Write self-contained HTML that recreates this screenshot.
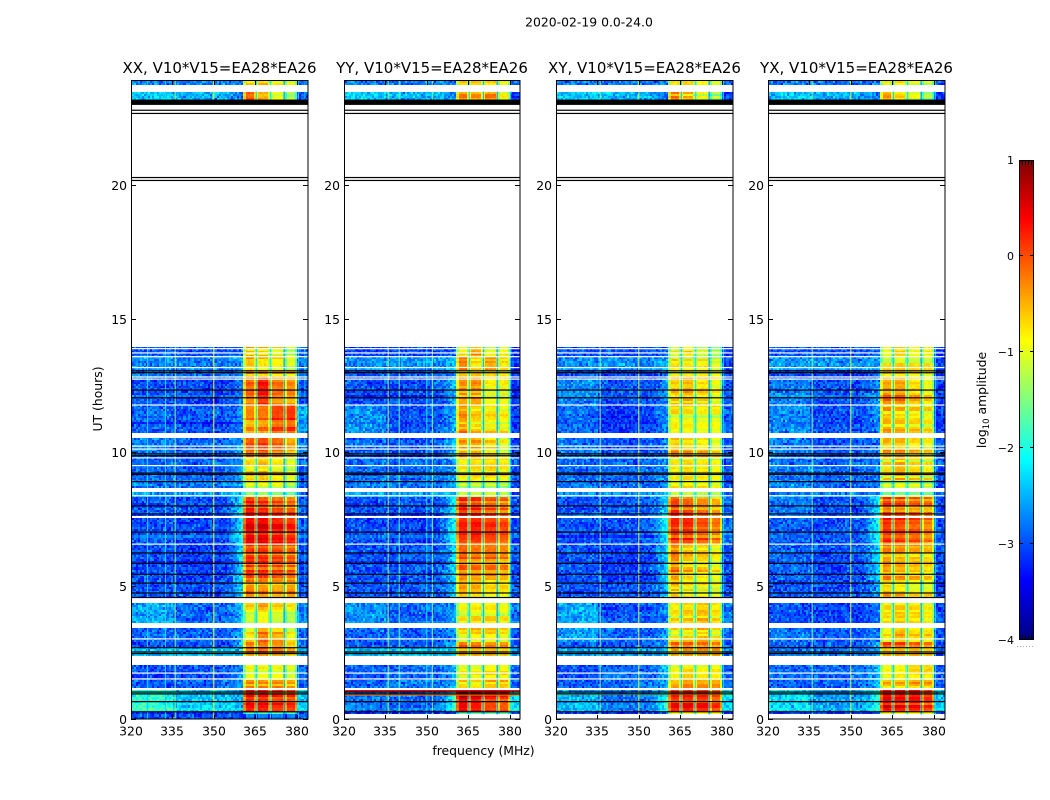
<!DOCTYPE html>
<html lang="en">
<head>
<meta charset="utf-8">
<title>2020-02-19 0.0-24.0</title>
<style>
html,body{margin:0;padding:0;background:#fff;width:1050px;height:800px;overflow:hidden}
svg{display:block}
text{font-family:"DejaVu Sans","Liberation Sans",sans-serif;fill:#000}
.cell{shape-rendering:crispEdges}
</style>
</head>
<body>
<svg id="chart" xmlns="http://www.w3.org/2000/svg" width="1050" height="800" viewBox="0 0 1050 800">
  <text x="589" y="26.500" font-size="12.400" text-anchor="middle">2020-02-19 0.0-24.0</text>
  <text x="0" y="0" font-size="12.400" text-anchor="middle" transform="translate(102,399) rotate(-90)">UT (hours)</text>
  <text x="483.500" y="755" font-size="12.400" text-anchor="middle">frequency (MHz)</text>
  <text x="0" y="0" font-size="12.400" text-anchor="middle" transform="translate(986,400) rotate(-90)">log<tspan font-size="8.500" dy="3">10</tspan><tspan dy="-3"> amplitude</tspan></text>
  <g id="panels"></g>
  <g id="colorbar"></g>
</svg>
<script>
// ---- Data ----
const panelNames = ['XX', 'YY', 'XY', 'YX'];
const freqTicks = [320, 335, 350, 365, 380];
const hourTicks = [0, 5, 10, 15, 20];
const colorTicks = [1, 0, -1, -2, -3, -4];

// time bands in hours (start, end); anything between them is flagged (white)
const bandStarts = [0, 0.17, 0.26, 1.16, 1.46, 1.72, 2.36, 2.7, 2.88, 3.6, 4.53, 5.2, 6.55, 7.6, 8.31, 8.65, 8.95, 9.78, 10.71, 11.76, 12.77, 13.07, 13.56, 23.2, 23.75];
const bandEnds = [0.17, 0.26, 1.09, 1.46, 1.72, 2.02, 2.7, 2.88, 3.41, 4.35, 5.2, 6.55, 7.53, 8.31, 8.5, 8.95, 9.78, 10.52, 11.76, 12.77, 13.07, 13.56, 13.93, 23.5, 23.9];

// frequency regions in MHz: left, middle, edge, block1..block4, right
const regionEdges = [320, 335, 352, 360.5, 365.4, 370.5, 375.5, 380.4, 384.2];

// log10 amplitude per time band and frequency region
const xxValues = [
[-3,-3,-3,-2.8,-2.8,-2.8,-2.8,-3],
[-3.2,-3.2,-3,-1.5,-1.5,-1.5,-1.5,-3.2],
[-2,-2.4,-2.7,0.3,0.25,0.15,0.1,-2.4],
[-3,-2.9,-2.6,-0.3,-0.3,-0.3,-0.4,-3],
[-3.1,-3,-2.6,-0.7,-0.7,-0.7,-0.8,-3],
[-3,-3,-2.6,-1,-1,-1,-1.1,-3],
[-2.4,-2.4,-2.3,-0.3,-0.2,-0.3,-0.5,-2.6],
[-3,-3,-2.3,0,0,-0.1,-0.4,-3],
[-2.9,-2.9,-2.6,-0.8,-0.25,-0.5,-0.9,-3],
[-2.6,-2.9,-2.5,-0.9,-0.7,-0.9,-1,-2.8],
[-3,-3,-2.3,-0.3,-0.4,-0.5,-0.4,-3],
[-3,-3.1,-2.2,0,0,-0.1,-0.2,-3.1],
[-3,-3.1,-2.1,0.35,0.35,0.2,0.1,-3.1],
[-3,-3,-2.1,0.25,0.15,0,-0.1,-3],
[-2.6,-2.6,-2.4,-1.3,-1.3,-1.4,-1.5,-3],
[-2.8,-2.8,-2.6,-1,-1,-1,-1.3,-3],
[-2.9,-2.9,-2.6,-0.7,-0.6,-0.8,-1,-3],
[-2.8,-2.9,-2.6,-0.2,-0.1,-0.3,-0.6,-2.9],
[-2.9,-3,-2.7,-0.4,-0.3,-0.05,0,-2.6],
[-3,-3.1,-2.8,-0.2,0.2,-0.3,-0.4,-3],
[-2.8,-2.9,-2.7,-0.5,-0.5,-0.6,-0.7,-2.9],
[-2.7,-2.8,-2.5,-0.6,-0.8,-0.9,-1.1,-2.8],
[-3,-3,-2.9,-0.6,-0.7,-0.9,-1.2,-3],
[-2.4,-2.5,-2.9,-0.2,-0.6,-1.1,-1.4,-3.1],
[-2.8,-2.8,-2.8,-0.8,-0.7,-1,-1.1,-3]
];
const yyValues = [
[null,null,null,null,null,null,null,null],
[-3.2,-3.2,-3,-1.5,-1.5,-1.5,-1.5,-3.2],
[-2.8,-2.9,-1.8,0.65,0.5,0.25,0.15,-2.2],
[-2.9,-2.8,-2.5,-0.7,-0.8,-0.6,-0.6,-3],
[-3,-2.9,-2.5,-0.9,-0.9,-0.8,-0.8,-3],
[-2.9,-2.9,-2.5,-1,-1,-0.9,-0.9,-3],
[-2.4,-2.4,-2.2,-0.4,-0.4,-0.4,-0.5,-2.6],
[-3,-3,-2.4,-0.1,-0.2,-0.3,-0.3,-3],
[-2.9,-2.9,-2.6,-0.8,-0.7,-0.7,-0.8,-3],
[-2.7,-2.9,-2.6,-0.9,-0.8,-0.8,-0.9,-2.8],
[-3,-3,-2.4,-0.6,-0.7,-0.9,-0.9,-3],
[-3,-3,-2.2,-0.2,-0.3,-0.3,-0.4,-3],
[-3,-3.1,-2,0.15,0.2,0.05,-0.05,-3],
[-3,-3,-2.1,0.1,0,-0.2,-0.3,-3],
[-2.6,-2.6,-2.4,-1.4,-1.4,-1.4,-1.5,-3],
[-2.8,-2.8,-2.6,-1.1,-1.1,-1.1,-1.2,-3],
[-2.9,-2.9,-2.6,-0.9,-0.8,-0.8,-0.9,-3],
[-2.9,-3,-2.4,-0.5,-0.5,-0.8,-1,-3.1],
[-2.7,-3,-2.5,-0.4,-0.7,-0.8,-0.9,-3.1],
[-3,-3,-2.4,-0.4,-0.4,-0.9,-0.9,-3.1],
[-3,-3,-2.6,-0.7,-0.7,-0.8,-0.9,-3.2],
[-2.7,-2.7,-2.3,-0.4,-0.9,-0.6,-0.9,-3.2],
[-3.1,-3.1,-2.9,-0.9,-0.5,-1.1,-1,-3.2],
[-2.4,-2.5,-2.9,-0.3,-0.4,-0.3,-0.9,-3.1],
[-2.8,-2.8,-2.8,-0.6,-0.5,-0.6,-0.8,-3]
];
const xyValues = [
[null,null,null,null,null,null,null,null],
[-3.2,-3.2,-3,-1.2,-1.2,-1.2,-1.2,-3.2],
[-2.5,-2.8,-1.9,0.25,0.25,0.2,0,-2.3],
[-3,-2.9,-2.5,-0.7,-0.5,-0.6,-0.6,-3],
[-3,-2.9,-2.5,-0.9,-0.7,-0.9,-0.9,-3],
[-3,-2.9,-2.4,-1,-0.8,-1,-0.9,-3],
[-2.5,-2.6,-2.4,-0.6,-0.5,-0.5,-0.5,-2.8],
[-3,-3,-2.5,-0.3,-0.3,-0.4,-0.5,-3],
[-2.6,-2.9,-2.6,-0.9,-0.8,-0.7,-0.9,-2.9],
[-2.6,-3,-2.7,-0.9,-0.8,-0.7,-0.9,-2.8],
[-3,-3,-2.4,-0.6,-0.8,-0.9,-1,-3],
[-3,-3.1,-2.3,-0.3,-0.6,-0.7,-0.9,-3],
[-3,-3,-2,0.1,0.1,-0.1,-0.3,-2.8],
[-3,-3,-2.2,-0.05,-0.2,-0.4,-0.6,-2.9],
[-2.7,-2.7,-2.5,-1.4,-1.4,-1.5,-1.5,-3],
[-2.8,-2.9,-2.7,-1,-0.9,-1,-1.1,-3],
[-2.9,-2.9,-2.7,-0.9,-0.8,-0.9,-1,-3],
[-2.8,-3,-2.7,-0.5,-0.6,-0.7,-0.9,-3],
[-2.9,-3.1,-2.7,-0.8,-0.8,-0.9,-0.9,-2.9],
[-2.7,-3,-2.6,-0.6,-0.5,-0.7,-0.9,-3],
[-3,-3.1,-2.8,-0.9,-0.9,-0.9,-1,-3.1],
[-2.7,-2.7,-2.5,-0.9,-1,-1,-1.2,-3],
[-3,-3,-2.9,-0.9,-0.7,-1,-1.2,-3.1],
[-2.4,-2.5,-2.9,-0.3,-0.6,-1,-1.3,-3.1],
[-2.8,-2.8,-2.8,-0.8,-0.7,-0.9,-1.1,-3]
];
const yxValues = [
[null,null,null,null,null,null,null,null],
[-3.2,-3.2,-3,-1.2,-1.2,-1.2,-1.2,-3.2],
[-2.3,-2.6,-1.9,0.3,0.2,0.15,0,-2.4],
[-3,-2.9,-2.5,-0.6,-0.6,-0.5,-0.5,-3],
[-2.9,-2.9,-2.5,-0.9,-0.8,-0.8,-0.8,-3],
[-2.9,-2.9,-2.4,-1,-1,-0.8,-0.8,-3],
[-2.8,-2.8,-2.6,-0.7,-0.6,-0.6,-0.7,-3],
[-3,-3,-2.5,-0.1,-0.1,-0.3,-0.4,-3],
[-2.8,-3,-2.7,-0.9,-0.6,-0.8,-0.8,-3],
[-3,-3.1,-2.8,-0.8,-0.7,-0.8,-0.9,-3],
[-3,-3,-2.5,-0.6,-0.7,-0.9,-0.9,-3.1],
[-2.9,-3,-2.2,-0.3,-0.4,-0.5,-0.6,-3],
[-2.9,-3,-1.9,0.2,0.1,0,-0.2,-3],
[-2.8,-3,-2.1,0,-0.1,-0.2,-0.3,-3],
[-2.7,-2.7,-2.6,-1.3,-1.3,-1.3,-1.3,-3],
[-2.7,-2.9,-2.7,-1.1,-1,-1.1,-1.2,-3],
[-2.8,-2.9,-2.7,-0.8,-0.6,-0.8,-0.9,-3],
[-2.8,-3,-2.8,-0.5,-0.5,-0.7,-0.8,-3],
[-2.7,-3,-2.6,-0.5,-0.6,-0.7,-0.8,-3.1],
[-2.8,-3,-2.6,-0.3,-0.3,-0.6,-0.8,-3.1],
[-3,-3.1,-2.8,-0.6,-0.6,-0.7,-0.8,-3.1],
[-2.6,-2.7,-2.5,-0.9,-0.8,-0.9,-0.9,-3.1],
[-3,-3,-2.9,-1,-0.7,-1,-0.9,-3.1],
[-2.4,-2.5,-2.9,-0.3,-0.6,-0.9,-1.2,-3.1],
[-2.8,-2.8,-2.8,-0.8,-0.7,-0.9,-1,-3]
];

// persistent narrow channels (MHz and log10 amplitude) per panel
const xxChannelFreqs = [326, 332.5, 336, 350, 365.4, 370.5, 375.5, 380.6, 383];
const xxChannelLevels = [-2.3, -2.3, -1.5, -0.9, -2.3, -2.2, -2.7, -2.2, -2.4];
const yyChannelFreqs = [336, 340, 350, 352, 365.4, 370.5, 375.5, 380.4];
const yyChannelLevels = [-1.3, -1.7, -2.2, -1.5, -2.3, -2.5, -2.7, -2.2];
const xyChannelFreqs = [336, 350, 365.4, 370.5, 375.5, 380.6];
const xyChannelLevels = [-1.5, -1.1, -2.4, -2.2, -2.7, -2.2];
const yxChannelFreqs = [336, 350, 365.4, 370.5, 375.5, 380.6];
const yxChannelLevels = [-1.5, -1.1, -2.4, -2.2, -2.7, -2.2];

// single-integration bright rows per panel (hours, log10 amplitude)
const yyAccentHours = [1.06, 0.9];
const yyAccentLevels = [0.4, -0.2];
const xyAccentHours = [0.93];
const xyAccentLevels = [-0.9];

// rows shared by all panels
const whiteRowHours = [13.87, 13.71, 13.57, 13.16, 12.81, 12.73, 11.76, 10.22, 10.11, 9.78, 9.49, 8.36, 6.55, 3.0, 1.72, 1.5];
const blackRowHours = [13.04, 12.97, 12.32, 12.03, 9.93, 9.86, 9.21, 9.16, 8.89, 7.98, 7.68, 7.0, 6.22, 5.83, 5.42, 5.09, 4.72, 4.55, 2.67, 2.51, 2.45, 1.01, 0.94, 0.65, 0.27, 22.8, 22.68, 20.28, 20.17];
const blackBandStarts = [23.0];
const blackBandEnds = [23.2];

// hand-read speckle offsets of the background noise
const speckle = [0.3,-0.5,0.1,0.6,-0.2,-0.7,0.4,0.0,-0.4,0.8,-0.1,0.2,-0.6,0.5,-0.3,0.1,0.7,-0.8,0.2,-0.1,0.4,-0.5,0.9,-0.2,0.0,-0.6,0.3,0.5,-0.4,0.1,-0.9,0.6,-0.1,0.2,-0.3,0.7,-0.5,0.0,0.4,-0.7,0.1,0.3,0.6];

const allValues = [xxValues, yyValues, xyValues, yxValues];
const allChannelFreqs = [xxChannelFreqs, yyChannelFreqs, xyChannelFreqs, yxChannelFreqs];
const allChannelLevels = [xxChannelLevels, yyChannelLevels, xyChannelLevels, yxChannelLevels];
const allAccentHours = [[], yyAccentHours, xyAccentHours, []];
const allAccentLevels = [[], yyAccentLevels, xyAccentLevels, []];

// ---- Layout and scales ----
const panelLefts = [131, 344, 556, 768];
const panelWidths = [177, 176, 177, 177];
const plotTop = 81, plotBottom = 719;
const pxPerHour = 26.7, pxPerMHz = 2.76;
const cellMHz = 0.75, cellHours = 0.08;
const SVGNS = 'http://www.w3.org/2000/svg';
const scaleX = (left, mhz) => left + (mhz - 320) * pxPerMHz;
const scaleY = hour => plotBottom - hour * pxPerHour;

function jet(v) {
  const t = Math.max(0, Math.min(1, (v + 4) / 5));
  const ch = c => Math.round(255 * Math.max(0, Math.min(1, 1.5 - Math.abs(4 * t - c))));
  return 'rgb(' + ch(3) + ',' + ch(2) + ',' + ch(1) + ')';
}
function node(parent, tag, attrs) {
  const el = document.createElementNS(SVGNS, tag);
  for (const k in attrs) el.setAttribute(k, attrs[k]);
  parent.appendChild(el);
  return el;
}
function regionOf(mhz) {
  for (let r = 0; r < 8; r++) if (mhz < regionEdges[r + 1]) return r;
  return 7;
}

const root = document.getElementById('panels');
const defs = node(root, 'defs', {});

panelNames.forEach((name, p) => {
  const left = panelLefts[p], width = panelWidths[p];
  const values = allValues[p];
  const group = node(root, 'g', {});
  
  

  const clip = node(defs, 'clipPath', {id: 'clip' + p});
  node(clip, 'rect', {x: left, y: plotTop, width: width, height: plotBottom - plotTop});
  const heat = node(group, 'g', {'clip-path': 'url(#clip' + p + ')'});
  
  

  bandStarts.forEach((start, b) => {
    const end = bandEnds[b];
    const row = values[b];
    if (row[0] === null) return;
    const nRows = Math.max(1, Math.round((end - start) / cellHours));
    const yTop = scaleY(end), yBot = scaleY(start);
    const rowPx = (yBot - yTop) / nRows;
    const nCols = Math.ceil(64.5 / cellMHz);
    const n = speckle.length;
    for (let j = 0; j < nRows; j++) {
      const rowSeed = b * 37 + j * 3 + p;
      const rowShift = speckle[(rowSeed * rowSeed + j) % n];
      for (let k = 0; k < nCols; k++) {
        const f0 = 319.5 + k * cellMHz, mid = f0 + cellMHz / 2;
        const r = regionOf(mid);
        let v = row[r];
        if (r === 2) {
          // the rise towards the strong band starts near 352 MHz
          const frac = Math.pow((mid - regionEdges[2]) / (regionEdges[3] - regionEdges[2]), 2);
          v = row[1] + (row[2] - row[1]) * frac;
        }
        const s1 = speckle[(k * k * 7 + k * rowSeed + j * j * 5 + p * 3) % n];
        const s2 = speckle[(k * 13 + (rowSeed + k) * (j + 2) * 3) % n];
        if (r >= 3 && r <= 6) {
          let nearest = 9;
          for (let e = 3; e <= 7; e++) nearest = Math.min(nearest, Math.abs(mid - regionEdges[e]));
          v += s1 * 0.1 + rowShift * 0.38;
          if (nearest < 0.8) v -= 0.55;
        } else {
          v += (s1 + s2) * 0.32 + rowShift * 0.05;
        }
        const x0 = Math.round(scaleX(left, f0));
        const x1 = Math.round(scaleX(left, f0 + cellMHz));
        const y0 = Math.round(yTop + j * rowPx);
        const y1 = Math.round(yTop + (j + 1) * rowPx);
        const cell = node(heat, 'rect', {x: x0, y: y0, width: x1 - x0, height: Math.max(1, y1 - y0), fill: jet(v), 'class': 'cell'});
        
        
      }
    }
    allChannelFreqs[p].forEach((mhz, c) => {
      const line = node(heat, 'rect', {x: scaleX(left, mhz) - 0.5, y: yTop, width: 1, height: yBot - yTop, fill: jet(allChannelLevels[p][c])});
      
      
    });
  });

  allAccentHours[p].forEach((hour, a) => {
    const line = node(heat, 'rect', {x: left, y: scaleY(hour) - 0.6, width: width, height: 1.2, fill: jet(allAccentLevels[p][a])});
    
    
  });
  whiteRowHours.forEach(hour => {
    const line = node(heat, 'rect', {x: left, y: scaleY(hour) - 0.6, width: width, height: 1.2, fill: '#fff'});
    
    
  });
  blackRowHours.forEach(hour => {
    const line = node(heat, 'rect', {x: left, y: scaleY(hour) - 0.6, width: width, height: 1.2, fill: '#000'});
    
    
  });
  blackBandStarts.forEach((start, i) => {
    const band = node(heat, 'rect', {x: left, y: scaleY(blackBandEnds[i]), width: width, height: (blackBandEnds[i] - start) * pxPerHour, fill: '#000'});
    
    
  });

  const frame = node(group, 'rect', {x: left + 0.5, y: plotTop - 0.5, width: width - 0.5, height: plotBottom - plotTop + 0.5, fill: 'none', stroke: '#000', 'stroke-width': 1});
  
  

  const title = node(group, 'text', {x: left + width / 2, y: 73, 'font-size': 15, 'text-anchor': 'middle'});
  title.textContent = name + ', V10*V15=EA28*EA26';
  
  

  freqTicks.forEach(tick => {
    const x = Math.round(scaleX(left, tick)) + 0.5;
    const mark = node(group, 'path', {d: 'M' + x + ' ' + plotBottom + 'v-4M' + x + ' ' + plotTop + 'v4', stroke: '#000', 'stroke-width': 1, fill: 'none'});
    
    
    const label = node(group, 'text', {x: x - 0.5, y: 735.5, 'font-size': 12.4, 'text-anchor': 'middle'});
    label.textContent = String(tick);
    
    
  });
  hourTicks.forEach(tick => {
    const y = Math.round(scaleY(tick)) + 0.5;
    const mark = node(group, 'path', {d: 'M' + left + ' ' + y + 'h5M' + (left + width) + ' ' + y + 'h-5', stroke: '#000', 'stroke-width': 1, fill: 'none'});
    
    
    const label = node(group, 'text', {x: left - 4, y: y + 4.5, 'font-size': 12.4, 'text-anchor': 'end'});
    label.textContent = String(tick);
    
    
  });
});

// ---- Colorbar ----
const cb = document.getElementById('colorbar');
const cbLeft = 1019, cbWidth = 15, cbTop = 160, cbHeight = 480;
const cbY = v => cbTop + (1 - v) / 5 * cbHeight;
for (let i = 0; i < cbHeight; i++) {
  const strip = node(cb, 'rect', {x: cbLeft, y: cbTop + i, width: cbWidth, height: 1, fill: jet(1 - (i + 0.5) / cbHeight * 5), 'class': 'cell'});
  
  
}
const cbFrame = node(cb, 'rect', {x: cbLeft + 0.5, y: cbTop + 0.5, width: cbWidth - 1, height: cbHeight - 1, fill: 'none', stroke: '#000', 'stroke-width': 1});


colorTicks.forEach(tick => {
  const y = Math.round(cbY(tick)) + (tick === 1 ? 0.5 : -0.5);
  const mark = node(cb, 'path', {d: 'M' + cbLeft + ' ' + y + 'h4M' + (cbLeft + cbWidth) + ' ' + y + 'h-4', stroke: '#000', 'stroke-width': 1, fill: 'none'});
  
  
  const label = node(cb, 'text', {x: 1014, y: Math.round(cbY(tick)) + 4, 'font-size': 11, 'text-anchor': 'end'});
  label.textContent = tick < 0 ? '\u2212' + Math.abs(tick) : String(tick);
  
  
});
[3, 6, 9, 12].forEach(dx => {
  const mark = node(cb, 'path', {d: 'M' + (cbLeft + dx + 0.5) + ' ' + cbTop + 'v5M' + (cbLeft + dx + 0.5) + ' ' + (cbTop + cbHeight) + 'v-5', stroke: '#000', 'stroke-width': 1, fill: 'none'});
  
  
});
const dots = node(cb, 'path', {d: 'M1017 646.500h17', stroke: '#aaa', 'stroke-width': 1, 'stroke-dasharray': '1 2', fill: 'none'});


</script>
</body>
</html>
